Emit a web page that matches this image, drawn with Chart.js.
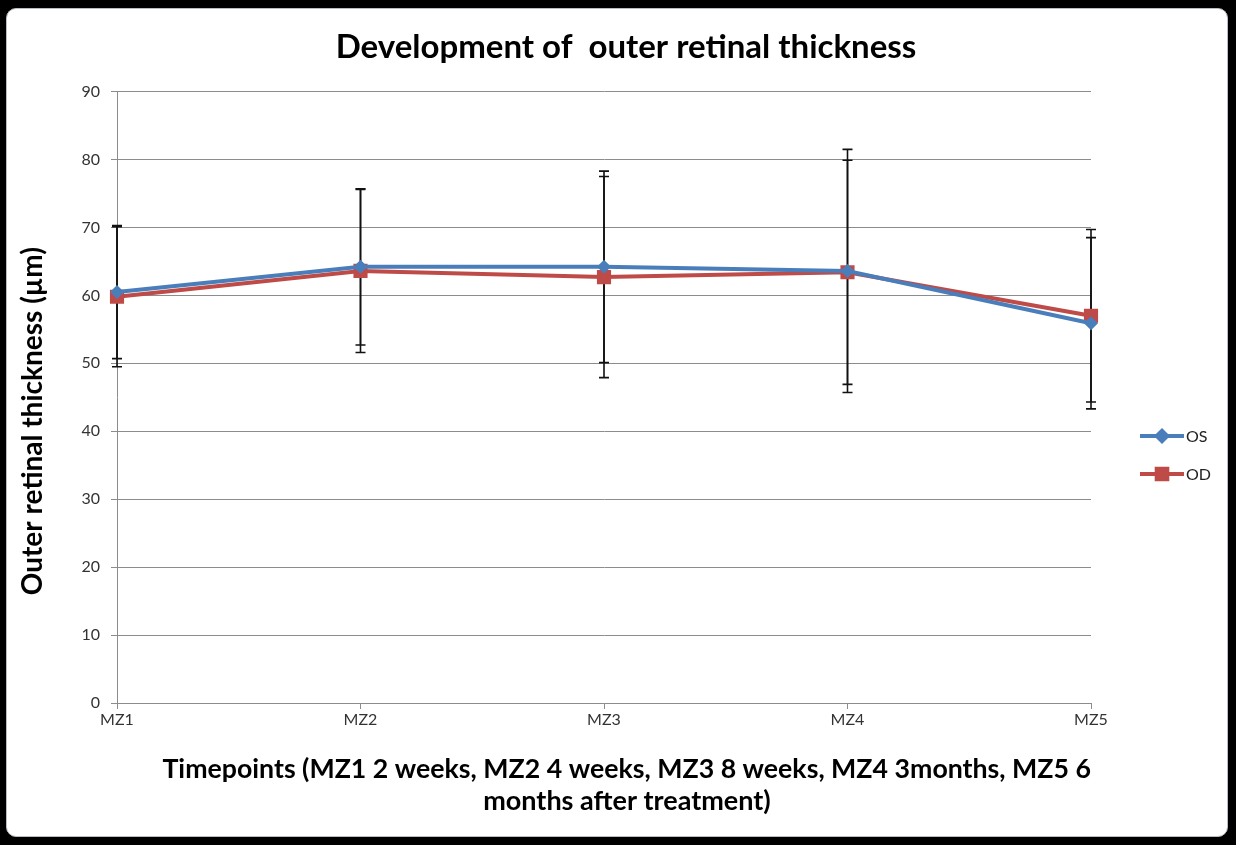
<!DOCTYPE html>
<html>
<head>
<meta charset="utf-8">
<script src="https://cdn.jsdelivr.net/npm/chart.js@4"></script>
<style>
  html, body { margin: 0; padding: 0; background: #000; }
  .frame { position: absolute; left: 6px; top: 8px; width: 1220px; height: 827px; background: #fff; border: 1px solid #b8bcc4; border-radius: 10px; }
  .wrap { position: absolute; left: 0; top: 0; width: 1236px; height: 845px; }
</style>
</head>
<body>
<div class="frame"></div>
<div class="wrap"><canvas id="chart"></canvas></div>
<script>
const timepoints = ["MZ1", "MZ2", "MZ3", "MZ4", "MZ5"];
const osValues = [60.5, 64.2, 64.2, 63.6, 55.9];
const odValues = [59.8, 63.6, 62.7, 63.4, 57.0];
const osErrors = [9.8, 11.5, 14.1, 17.9, 12.6];
const odErrors = [10.3, 12.0, 14.8, 16.5, 12.7];

const osColor = "#4a7ebb";
const odColor = "#be4b48";
const fontName = "Lato";

// excel style error bars, drawn under the markers
const errorBars = {
  id: "errorBars",
  beforeDatasetsDraw(chart) {
    let ctx = chart.ctx;
    let x = chart.scales.x;
    let y = chart.scales.y;
    ctx.save();
    ctx.strokeStyle = "#111";
    ctx.lineWidth = 1.6;
    chart.data.datasets.forEach(ds => {
      ds.errors.forEach((e, i) => {
        let px = x.getPixelForValue(i);
        let top = y.getPixelForValue(ds.data[i] + e);
        let bot = y.getPixelForValue(ds.data[i] - e);
        ctx.beginPath();
        ctx.moveTo(px, top);
        ctx.lineTo(px, bot);
        ctx.moveTo(px - 5, top);
        ctx.lineTo(px + 5, top);
        ctx.moveTo(px - 5, bot);
        ctx.lineTo(px + 5, bot);
        ctx.stroke();
      });
    });
    ctx.restore();
  }
};

// legend on the right with line + marker like excel
const sideLegend = {
  id: "sideLegend",
  afterDraw(chart) {
    let ctx = chart.ctx;
    let left = chart.chartArea.right + 49;
    let top = 436;
    ctx.save();
    chart.data.datasets.forEach((ds, i) => {
      let cy = top + i * 38;
      ctx.strokeStyle = ds.borderColor;
      ctx.lineWidth = 4;
      ctx.beginPath();
      ctx.moveTo(left, cy);
      ctx.lineTo(left + 44, cy);
      ctx.stroke();
      Chart.helpers.drawPoint(ctx, {pointStyle: ds.pointStyle, radius: ds.pointRadius * 0.75, borderWidth: 1}, left + 22, cy);
      ctx.fillStyle = ds.borderColor;
      ctx.fill();
      ctx.fillStyle = "#222";
      ctx.font = "16px " + fontName;
      ctx.textBaseline = "middle";
      ctx.fillText(ds.label, left + 46, cy + 1);
    });
    ctx.restore();
  }
};

new Chart(document.getElementById("chart"), {
  type: "line",
  data: {
    labels: timepoints,
    datasets: [
      {
        label: "OS",
        data: osValues,
        errors: osErrors,
        borderColor: osColor,
        backgroundColor: osColor,
        borderWidth: 4,
        pointStyle: "rectRot",
        pointRadius: 7,
        pointBorderWidth: 0,
        tension: 0
      },
      {
        label: "OD",
        data: odValues,
        errors: odErrors,
        borderColor: odColor,
        backgroundColor: odColor,
        borderWidth: 4,
        pointStyle: "rect",
        pointRadius: 10,
        pointBorderWidth: 0,
        tension: 0
      }
    ]
  },
  options: {
    responsive: true,
    maintainAspectRatio: false,
    animation: false,
    layout: { padding: { top: 0, left: 16, right: 0, bottom: 0 } },
    plugins: {
      legend: { display: false },
      tooltip: { enabled: false },
      title: {
        display: true,
        text: "Development of  outer retinal thickness",
        color: "#000",
        font: { family: fontName, size: 33, weight: "bold" },
        padding: { top: 28, bottom: 24 }
      }
    },
    scales: {
      x: {
        offset: false,
        grid: { drawOnChartArea: false, drawTicks: true, tickLength: 6, color: "#8c8c8c" },
        border: { color: "#8c8c8c" },
        ticks: { color: "#333", font: { family: fontName, size: 16 }, padding: 1, maxRotation: 0 },
        title: {
          display: true,
          text: ["       Timepoints (MZ1 2 weeks, MZ2 4 weeks, MZ3 8 weeks, MZ4 3months, MZ5 6", "       months after treatment)"],
          color: "#000",
          font: { family: fontName, size: 27, weight: "bold", lineHeight: 1.185 },
          padding: { top: 0, bottom: 28 }
        },
        afterFit(scale) { scale.height = 142; }
      },
      y: {
        min: 0,
        max: 90,
        grid: { color: "#8c8c8c", tickLength: 6 },
        border: { color: "#8c8c8c" },
        ticks: { stepSize: 10, color: "#333", font: { family: fontName, size: 16 }, padding: 11 },
        title: {
          display: true,
          text: "Outer retinal thickness (µm)       ",
          color: "#000",
          font: { family: fontName, size: 28, weight: "bold" },
          padding: { top: 0, bottom: 0 }
        },
        afterFit(scale) { scale.width = 117 - 16; }
      },
      // empty right-hand box that keeps room for the legend
      side: {
        position: "right",
        display: true,
        grid: { display: false },
        border: { display: false },
        ticks: { display: false },
        afterFit(scale) { scale.width = 1236 - 1091; }
      }
    }
  },
  plugins: [errorBars, sideLegend]
});
</script>
</body>
</html>
